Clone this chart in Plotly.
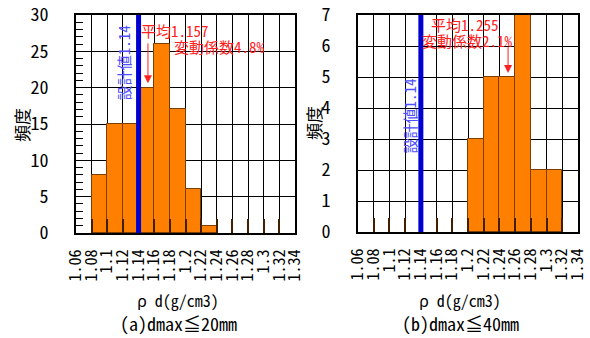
import plotly.graph_objects as go

# ---- data ----
bin_width = 0.02
left_bin_starts = [1.08, 1.10, 1.12, 1.14, 1.16, 1.18, 1.20, 1.22]
left_counts = [8, 15, 15, 20, 26, 17, 6, 1]
right_bin_starts = [1.20, 1.22, 1.24, 1.26, 1.28, 1.30]
right_counts = [3, 5, 5, 7, 2, 2]
tick_vals = [1.06, 1.08, 1.10, 1.12, 1.14, 1.16, 1.18, 1.20, 1.22, 1.24, 1.26, 1.28, 1.30, 1.32, 1.34]
tick_text = ["1.06", "1.08", "1.1", "1.12", "1.14", "1.16", "1.18", "1.2", "1.22", "1.24", "1.26", "1.28", "1.3", "1.32", "1.34"]
design_value = 1.14
left_mean_label = ["平均1.157", "変動係数4.8%"]
right_mean_label = ["平均1.255", "変動係数2.1%"]
left_arrow = [1.152, 26.3, 20.6]   # x, y_start, y_tip
right_arrow = [1.251, 6.03, 5.13]
left_ymax, right_ymax = 30, 7

FONT = "Noto Sans Mono CJK JP, Noto Sans CJK JP, sans-serif"
ORANGE = "#FF8000"
EDGE = "#7A3E00"
BLUE = "#0000D0"
TXTBLUE = "#5050FF"
RED = "#FF2020"

fig = go.Figure()
fig.add_trace(go.Bar(x=[s + bin_width / 2 for s in left_bin_starts], y=left_counts, width=bin_width,
                     marker=dict(color=ORANGE, line=dict(color=EDGE, width=1)), xaxis="x", yaxis="y",
                     showlegend=False))
fig.add_trace(go.Bar(x=[s + bin_width / 2 for s in right_bin_starts], y=right_counts, width=bin_width,
                     marker=dict(color=ORANGE, line=dict(color=EDGE, width=1)), xaxis="x2", yaxis="y2",
                     showlegend=False))

xcommon = dict(range=[1.06, 1.34], tickvals=tick_vals, ticktext=tick_text, tickangle=-90,
               showgrid=True, gridcolor="black", gridwidth=1, ticks="inside", ticklen=14,
               tickcolor="#402000", tickwidth=2, showline=True, linecolor="black", linewidth=2,
               mirror=True, tickfont=dict(family=FONT, size=16, color="black"), zeroline=False,
               ticklabelstandoff=8, automargin=False, ticklabeloverflow="allow")
ycommon = dict(showgrid=True, gridcolor="black", gridwidth=1, ticks="", showline=True,
               linecolor="black", linewidth=2, mirror=True, zeroline=False,
               tickfont=dict(family=FONT, size=18, color="black"), ticklabelstandoff=22,
               automargin=False, ticklabeloverflow="allow")

fig.update_layout(
    width=590, height=338, margin=dict(l=0, r=0, t=0, b=0, autoexpand=False),
    paper_bgcolor="white", plot_bgcolor="white", bargap=0,
    xaxis=dict(domain=[76 / 590, 295 / 590], anchor="y", **xcommon),
    xaxis2=dict(domain=[358 / 590, 578 / 590], anchor="y2", **xcommon),
    yaxis=dict(domain=[105 / 338, 323 / 338], anchor="x", range=[0, left_ymax], dtick=5,
               minor=dict(dtick=1, ticks="inside", ticklen=7, tickcolor="black", showgrid=False),
               **ycommon),
    yaxis2=dict(domain=[106 / 338, 323 / 338], anchor="x2", range=[0, right_ymax], dtick=1, **ycommon),
)

# design value lines
for xr, yr, ymax in [("x", "y", left_ymax), ("x2", "y2", right_ymax)]:
    fig.add_shape(type="line", xref=xr, yref=yr, x0=design_value, x1=design_value, y0=0, y1=ymax,
                  line=dict(color=BLUE, width=5), layer="above")

ann = []
# design value labels
ann.append(dict(xref="x", yref="y", x=1.120, y=23.5, text="設計値1.14", textangle=-90, showarrow=False,
                font=dict(family=FONT, size=15, color=TXTBLUE)))
ann.append(dict(xref="x2", yref="y2", x=1.126, y=3.75, text="設計値1.14", textangle=-90, showarrow=False,
                font=dict(family=FONT, size=15, color=TXTBLUE)))
# mean labels
ann.append(dict(xref="x", yref="y", x=1.1866, y=27.8, text=left_mean_label[0], showarrow=False,
                font=dict(family=FONT, size=15, color=RED)))
ann.append(dict(xref="x", yref="y", x=1.244, y=25.6, text=left_mean_label[1], showarrow=False,
                font=dict(family=FONT, size=15, color=RED)))
ann.append(dict(xref="x2", yref="y2", x=1.196, y=6.68, text=right_mean_label[0], showarrow=False,
                font=dict(family=FONT, size=15, color=RED)))
ann.append(dict(xref="x2", yref="y2", x=1.199, y=6.19, text=right_mean_label[1], showarrow=False,
                font=dict(family=FONT, size=15, color=RED)))
# arrows
for xr, yr, a in [("x", "y", left_arrow), ("x2", "y2", right_arrow)]:
    ann.append(dict(xref=xr, yref=yr, axref=xr, ayref=yr, x=a[0], y=a[2], ax=a[0], ay=a[1], text="",
                    showarrow=True, arrowhead=2, arrowsize=1.6, arrowwidth=1, arrowcolor=RED))
# y titles
for xp, yp in [(21 / 590, 125 / 338), (314 / 590, 123 / 338)]:
    ann.append(dict(xref="paper", yref="paper", x=xp, y=1 - yp, text="頻度", textangle=-90,
                    xanchor="center", yanchor="middle",
                    showarrow=False, font=dict(family=FONT, size=17, color="black")))
# x titles and captions
for xc, cap in [(178 / 590, "(a)dmax≦20mm"), (460 / 590, "(b)dmax≦40mm")]:
    ann.append(dict(xref="paper", yref="paper", x=xc, y=1 - 300 / 338, text="ρ d(g/cm3)",
                    xanchor="center", yanchor="middle",
                    showarrow=False, font=dict(family=FONT, size=16, color="black")))
    ann.append(dict(xref="paper", yref="paper", x=xc, y=1 - 323 / 338, text=cap,
                    xanchor="center", yanchor="middle",
                    showarrow=False, font=dict(family=FONT, size=18, color="black")))
fig.update_layout(annotations=ann)

fig.write_html("out.html")
